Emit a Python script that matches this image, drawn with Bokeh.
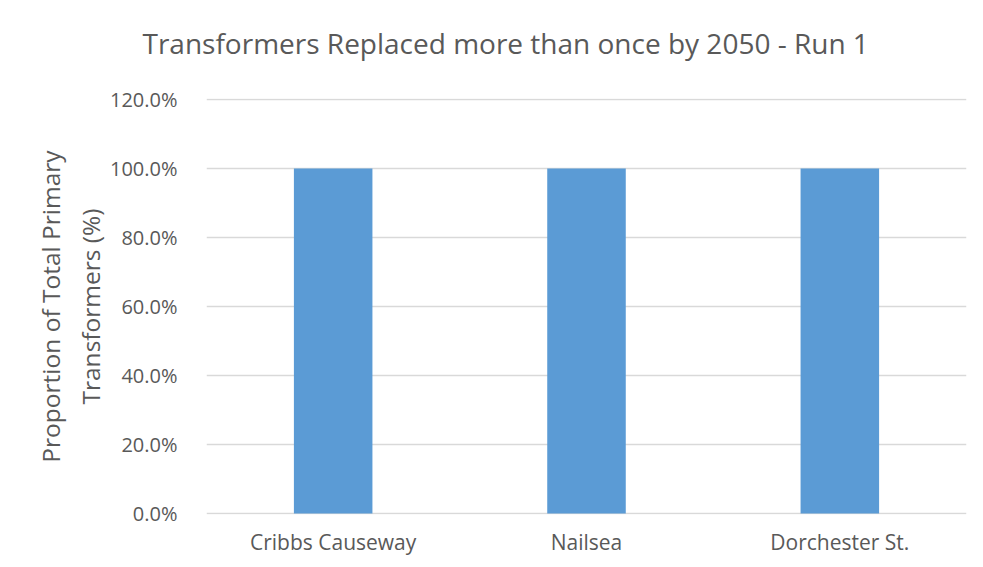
from bokeh.plotting import figure
from bokeh.models import (FactorRange, Range1d, FixedTicker, NumeralTickFormatter,
                          ColumnDataSource, Title, BoxAnnotation)
from bokeh.embed import file_html
from bokeh.resources import INLINE

categories = ["Cribbs Causeway", "Nailsea", "Dorchester St."]
values = [1.0, 1.0, 1.0]
y_ticks = [0.0, 0.2, 0.4, 0.6, 0.8, 1.0, 1.2]
title_text = "Transformers Replaced more than once by 2050 - Run 1"
y_label = "Proportion of Total Primary\nTransformers (%)"

FONT = "Open Sans"
GREY = "#595959"
GRID = "#d9d9d9"
BAR = "#5b9bd5"

W, H = 983, 567
FL, FR, FT, FB = 206, 966, 96, 514
pad = 1.2 / 416.0

p = figure(width=W, height=H, x_range=FactorRange(*categories, range_padding=0),
           y_range=Range1d(-pad, 1.2 + pad), output_backend="svg", toolbar_location=None,
           min_border_left=FL, min_border_right=W - FR, min_border_top=FT,
           min_border_bottom=H - FB)
p.outline_line_color = None
p.background_fill_color = "white"
p.border_fill_color = "white"

# spacer between frame and title
p.add_layout(Title(text=" ", text_font_size="1px", standoff=13), "above")

p.title.text = title_text
p.title.text_font = FONT
p.title.text_font_size = "28px"
p.title.text_font_style = "normal"
p.title.text_color = GREY
p.title.align = "left"
p.title.offset = -64
p.title.standoff = 42

src = ColumnDataSource(dict(cat=categories, val=values))
p.vbar(x="cat", top="val", width=0.31, source=src, fill_color=BAR, line_color=None)

p.yaxis.ticker = FixedTicker(ticks=y_ticks)
p.yaxis.formatter = NumeralTickFormatter(format="0.0%")
p.ygrid.ticker = FixedTicker(ticks=y_ticks)
p.ygrid.grid_line_color = GRID
p.ygrid.grid_line_width = 1.5
p.xgrid.grid_line_color = None

for ax in (p.xaxis[0], p.yaxis[0]):
    ax.axis_line_color = None
    ax.major_tick_line_color = None
    ax.minor_tick_line_color = None
    ax.major_label_text_font = FONT
    ax.major_label_text_color = GREY

p.yaxis.major_label_text_font_size = "20px"
p.xaxis.major_label_text_font_size = "21px"
p.yaxis.major_label_standoff = 23
p.xaxis.major_label_standoff = 7
p.yaxis.axis_label = y_label
p.yaxis.axis_label_text_font = FONT
p.yaxis.axis_label_text_font_style = "normal"
p.yaxis.axis_label_text_color = GREY
p.yaxis.axis_label_text_font_size = "24.5px"
p.yaxis.axis_label_standoff = 0

# chart-area border (top and left visible; right/bottom lie outside the window)
border = BoxAnnotation(left=6 - FL, right=2000, top=FB - 5, bottom=-1000,
                       left_units="screen", right_units="screen",
                       top_units="screen", bottom_units="screen",
                       fill_alpha=0, line_color=GRID, line_width=2)
p.add_layout(border)

open("out.html", "w").write(file_html(p, INLINE))
